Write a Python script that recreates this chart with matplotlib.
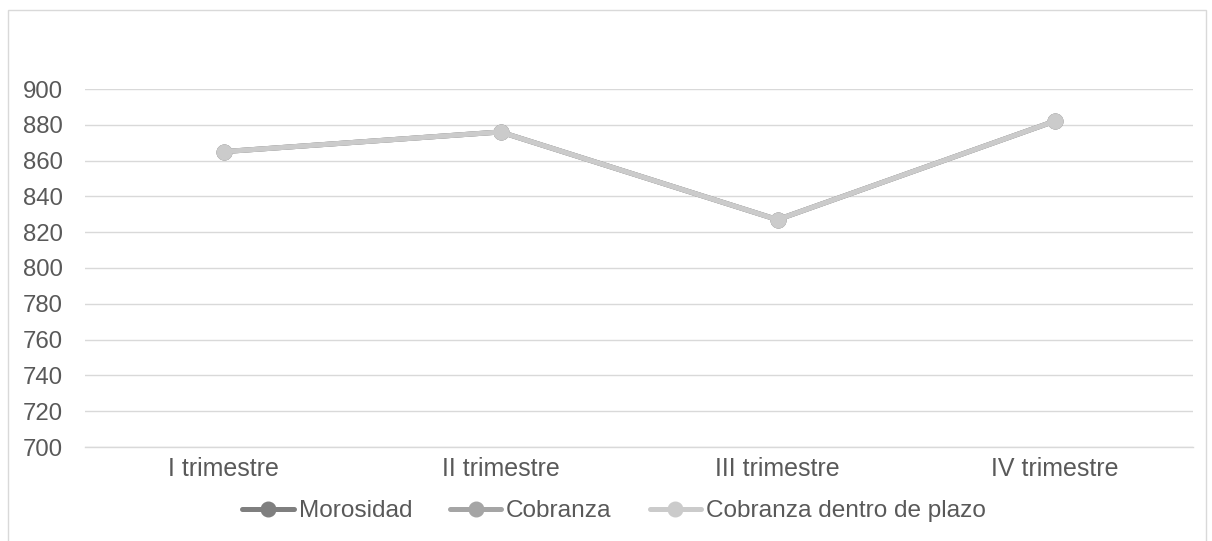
import matplotlib
matplotlib.use("Agg")
import matplotlib.pyplot as plt
from matplotlib.patches import Rectangle

plt.rcParams['font.family'] = ['Liberation Sans', 'DejaVu Sans']

categories = ["I trimestre", "II trimestre", "III trimestre", "IV trimestre"]
morosidad = [865, 876, 827, 882]
cobranza = [865, 876, 827, 882]
cobranza_plazo = [865, 876, 827, 882]
y_ticks = [700, 720, 740, 760, 780, 800, 820, 840, 860, 880, 900]

W, H = 1212, 541
fig = plt.figure(figsize=(W / 100, H / 100), dpi=100)

# outer chart border
fig.patches.append(Rectangle((8 / W, -0.05), (1206 - 8) / W, 1.05 - 10 / H,
                             transform=fig.transFigure, fill=False,
                             edgecolor="#d9d9d9", linewidth=1.0))

ax = fig.add_axes([85 / W, 1 - 447 / H, (1193 - 85) / W, (447 - 89) / H])
x = list(range(len(categories)))

series = [
    ("Morosidad", morosidad, "#7f7f7f"),
    ("Cobranza", cobranza, "#a5a5a5"),
    ("Cobranza dentro de plazo", cobranza_plazo, "#cbcbcb"),
]
for name, vals, col in series:
    ax.plot(x, vals, color=col, linewidth=3.6, marker="o", markersize=10.5,
            markeredgecolor=col, markerfacecolor=col, label=name,
            solid_capstyle="round", zorder=3)

ax.set_xlim(-0.5, len(categories) - 0.5)
ax.set_ylim(700, 900)
ax.set_yticks(y_ticks)
ax.set_xticks(x)
ax.set_xticklabels(categories)
ax.grid(axis="y", color="#d9d9d9", linewidth=1.0)
ax.set_axisbelow(True)
for s in ["top", "right", "left"]:
    ax.spines[s].set_visible(False)
ax.spines["bottom"].set_color("#d9d9d9")
ax.spines["bottom"].set_linewidth(1.0)
ax.tick_params(axis="x", length=0, labelsize=18, labelcolor="#595959", pad=7)
ax.tick_params(axis="y", length=0, labelsize=17.3, labelcolor="#595959", pad=16)

handles, labels = ax.get_legend_handles_labels()
fig.legend(handles, labels, loc="center", bbox_to_anchor=(614 / W, 1 - 511 / H),
           ncol=3, frameon=False, fontsize=17.6, labelcolor="#595959",
           handlelength=2.1, handletextpad=0.2, columnspacing=1.55,
           borderpad=0.2)

fig.savefig("out.png", dpi=100)
